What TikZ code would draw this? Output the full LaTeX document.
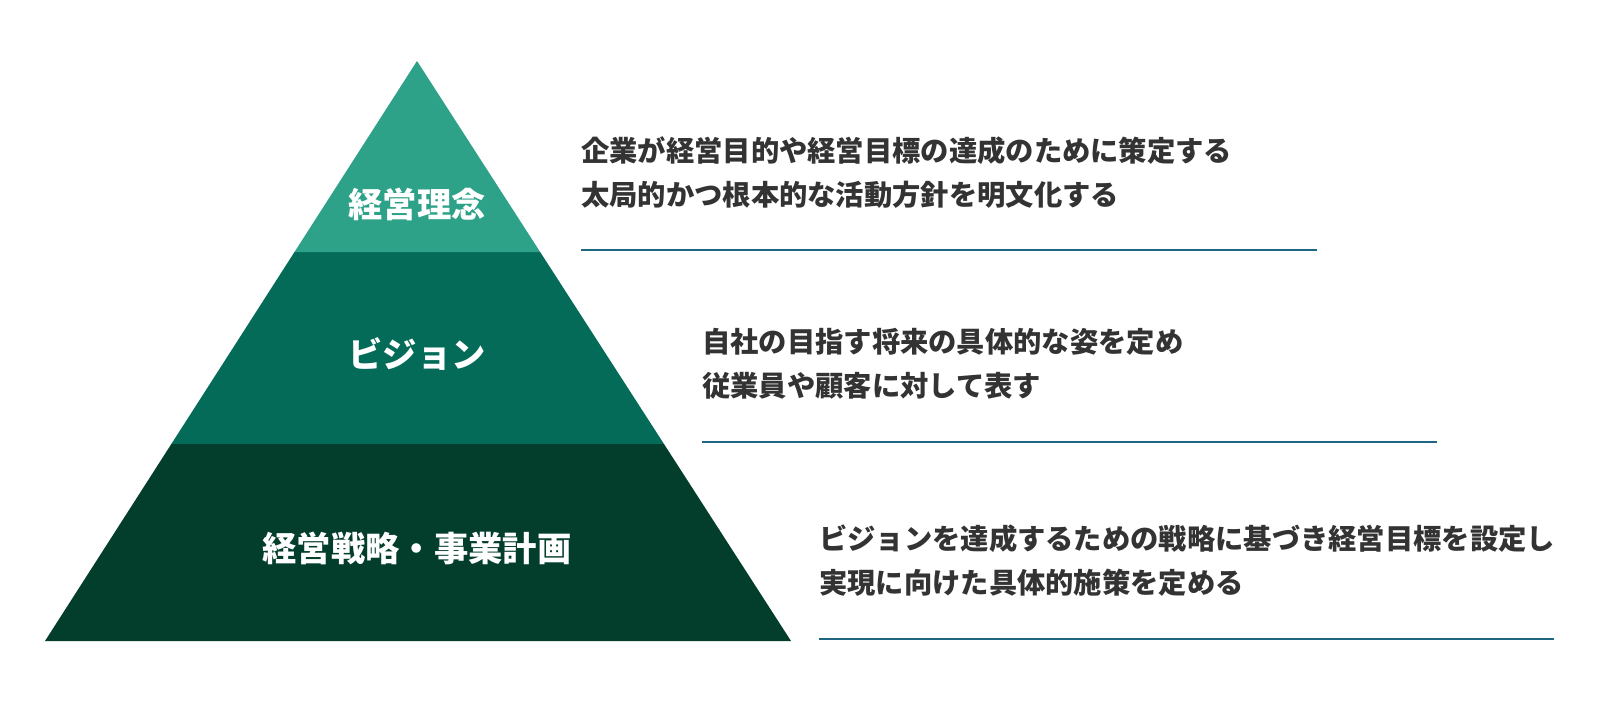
\documentclass[tikz,border=0pt]{standalone}
\usepackage{fontspec}
\newfontfamily\jp{Noto Sans CJK JP}
\usetikzlibrary{calc}
\definecolor{lay1}{HTML}{2EA288}
\definecolor{lay2}{HTML}{036B58}
\definecolor{lay3}{HTML}{033D2C}
\definecolor{rule}{HTML}{1F6682}
\definecolor{txt}{HTML}{333333}
\tikzset{
  label/.style={text=white,font=\jp\bfseries\fontsize{34.3}{40}\selectfont,inner sep=0pt},
  desc/.style={text=txt,font=\jp\bfseries\fontsize{28.3}{44}\selectfont,align=left,anchor=west,inner sep=0pt},
  rulel/.style={draw=rule,line width=2pt}
}
\begin{document}
\begin{tikzpicture}[x=1pt,y=-1pt]
\useasboundingbox (0,0) rectangle (1600,702);
\fill[white] (0,0) rectangle (1600,702);
\coordinate (A) at (417,61);
\coordinate (BL) at (45,641);
\coordinate (BR) at (791,641);
\coordinate (L1) at ($(A)!0.3293!(BL)$);
\coordinate (R1) at ($(A)!0.3293!(BR)$);
\coordinate (L2) at ($(A)!0.6603!(BL)$);
\coordinate (R2) at ($(A)!0.6603!(BR)$);
\fill[lay3] (L2) -- (R2) -- (BR) -- (BL) -- cycle;
\fill[lay2] (L1) -- (R1) -- (R2) -- (L2) -- cycle;
\fill[lay1] (A) -- (R1) -- (L1) -- cycle;
\node[label] (n1) at (417,204) {経営理念};
\node[label] (n2) at (417,354) {ビジョン};
\node[label] (n3) at (417,548) {経営戦略・事業計画};
\node[desc] (t1) at (581,172.5) {企業が経営目的や経営目標の達成のために策定する\\太局的かつ根本的な活動方針を明文化する};
\node[desc] (t2) at (702,363.5) {自社の目指す将来の具体的な姿を定め\\従業員や顧客に対して表す};
\node[desc] (t3) at (819,560.5) {ビジョンを達成するための戦略に基づき経営目標を設定し\\実現に向けた具体的施策を定める};
\coordinate (a1) at (581,250); \coordinate (b1) at (1317,250);
\coordinate (a2) at (702,442); \coordinate (b2) at (1437,442);
\coordinate (a3) at (819,639); \coordinate (b3) at (1554,639);
\draw[rulel] (a1) -- (b1);
\draw[rulel] (a2) -- (b2);
\draw[rulel] (a3) -- (b3);
\end{tikzpicture}
\end{document}
